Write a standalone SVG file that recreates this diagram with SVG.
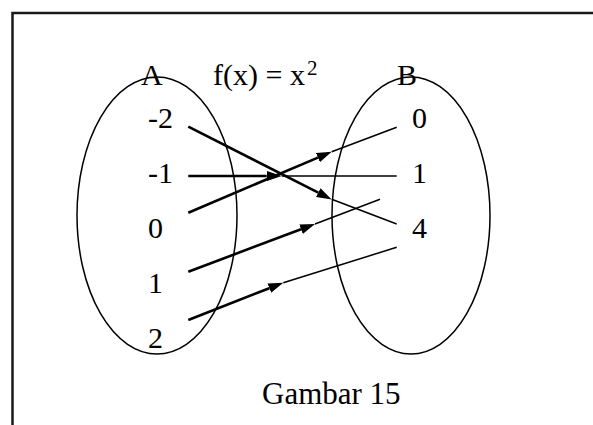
<svg xmlns="http://www.w3.org/2000/svg" width="593" height="425" viewBox="0 0 593 425">
  <style>
    text { font-family: "Liberation Serif", "Times New Roman", serif; font-size: 30px; fill: #000; }
    .set { fill: none; stroke: #000; stroke-width: 1.5; }
    .thick { stroke: #000; stroke-width: 2.6; fill: none; marker-end: url(#arrow); }
    .thin { stroke: #000; stroke-width: 1.5; fill: none; }
    .frame { stroke: #1a1a1a; stroke-width: 2.5; fill: none; }
  </style>
  <defs>
    <marker id="arrow" markerUnits="userSpaceOnUse" markerWidth="16" markerHeight="12" refX="0" refY="5" orient="auto" viewBox="0 0 16 10">
      <path d="M0,0 L15,5 L0,10 Z" fill="#000"/>
    </marker>
  </defs>

  <path class="frame" d="M12.5,425 V13 H593"/>

  <g id="setA">
    <ellipse class="set" cx="157" cy="215.5" rx="80" ry="138.5"/>
    <text x="141" y="85">A</text>
  </g>
  <g id="setB">
    <ellipse class="set" cx="411" cy="215.5" rx="79" ry="138.5"/>
    <text x="397" y="85">B</text>
  </g>
  <g id="title">
    <text x="213" y="85">f(x) = x</text>
    <text x="307" y="75" style="font-size:21px">2</text>
  </g>

  <g id="domain">
    <text x="148" y="128">-2</text>
    <text x="148" y="183">-1</text>
    <text x="148" y="238">0</text>
    <text x="148" y="293">1</text>
    <text x="148" y="348">2</text>
  </g>
  <g id="codomain">
    <text x="412" y="128">0</text>
    <text x="412" y="183">1</text>
    <text x="412" y="238">4</text>
  </g>

  <g id="connectors">
    <line class="thick" x1="188.3" y1="126.7" x2="318.3" y2="192.6"/>
    <line class="thin" x1="331.7" y1="199.3" x2="396.7" y2="224"/>

    <line class="thick" x1="188.3" y1="176" x2="266.7" y2="176"/>
    <line class="thin" x1="281.7" y1="176" x2="396.7" y2="176"/>

    <line class="thick" x1="188.3" y1="212.7" x2="317.9" y2="157.6"/>
    <line class="thin" x1="331.7" y1="151.7" x2="396.7" y2="127.3"/>

    <line class="thick" x1="188.3" y1="271.7" x2="301" y2="229.3"/>
    <line class="thin" x1="315" y1="224" x2="380" y2="199.3"/>

    <line class="thick" x1="188.3" y1="320" x2="269.3" y2="288.2"/>
    <line class="thin" x1="283.3" y1="282.7" x2="396.7" y2="247.3"/>
  </g>

  <g id="caption">
    <text x="262" y="404" style="font-size:31px">Gambar 15</text>
  </g>
</svg>
